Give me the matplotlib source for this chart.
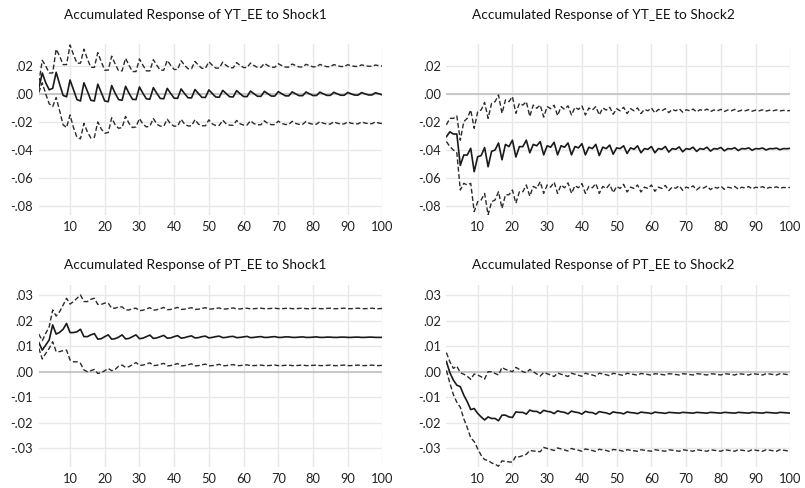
import numpy as np
import matplotlib
matplotlib.use("Agg")
import matplotlib.pyplot as plt
from matplotlib.ticker import FuncFormatter

plt.rcParams['font.family'] = ['Lato', 'DejaVu Sans']

#####################################
# data (units of 1e-3), periods 1..100
#####################################

# YT_EE to Shock1
yt1_mid = [4, 15, 8, 3, 4,
           15.5, 7, -1, -2, 10, 3, -4, -5,
           8, 2, -4.5, -5, 7, 1, -5, -5.5,
           6, 0.5, -4, -4.5, 5.5, 0.5, -3.8, -4,
           5, 0.5, -3.5, -3.7, 4.5, 0.5, -3.2, -3.4,
           4, 0.4, -3, -3.1, 3.6, 0.3, -2.7, -2.8,
           3.2, 0.3, -2.4, -2.5, 2.9, 0.3, -2.2, -2.3,
           2.6, 0.3, -2, -2.1, 2.4, 0.2, -1.8, -1.9,
           2.1, 0.2, -1.6, -1.7, 1.9, 0.2, -1.5, -1.5,
           1.7, 0.2, -1.3, -1.4, 1.5, 0.1, -1.2, -1.2,
           1.4, 0.1, -1.1, -1.1, 1.3, 0.1, -1, -1,
           1.2, 0.1, -0.9, -0.9, 1.1, 0.1, -0.8, -0.8,
           1.0, 0.1, -0.7, -0.7,
           0.9, 0.1, -0.6]
yt1_hi = [8, 24, 20, 15, 15,
          32, 27, 21, 21, 35, 28, 22, 22,
          32, 25, 19, 19, 29.5, 23, 17, 17,
          27, 21.5, 16.5, 16.5, 25.5, 20.5, 16, 16,
          25, 20.5, 16.5, 16.5, 24.5, 20.5, 17, 17,
          24, 20.5, 17.5, 17.5, 23.8, 20.5, 18, 18,
          23.3, 20.5, 18.3, 18.3, 23, 20.5, 18.5, 18.5,
          22.7, 20.4, 18.7, 18.7, 22.4, 20.4, 18.9, 18.9,
          22.1, 20.3, 19, 19, 21.8, 20.3, 19.1, 19.1,
          21.6, 20.3, 19.2, 19.2, 21.4, 20.3, 19.3, 19.3,
          21.2, 20.2, 19.4, 19.4, 21.1, 20.2, 19.5, 19.5,
          21, 20.2, 19.6, 19.6, 20.9, 20.2, 19.7, 19.7,
          20.8, 20.2, 19.8, 19.8,
          20.7, 20.2, 19.9]
yt1_lo = [1, 8, 0, -7, -9,
          -2.5, -12, -22, -24, -15, -24, -31, -32,
          -21, -27, -31.5, -31, -20, -25, -28, -27.5,
          -17, -22, -24.5, -24, -16, -21, -24, -23.5,
          -17.5, -21.5, -23.5, -23, -17.5, -21.5, -23, -23,
          -18, -21.5, -23, -23, -18, -21.5, -22.8, -22.8,
          -18.3, -21.5, -22.7, -22.7, -18.5, -21.4, -22.5, -22.5,
          -18.7, -21.4, -22.3, -22.3, -18.9, -21.3, -22.2, -22.2,
          -19.1, -21.2, -22, -22, -19.2, -21.1, -21.9, -21.9,
          -19.4, -21, -21.8, -21.8, -19.5, -21, -21.7, -21.7,
          -19.6, -21, -21.6, -21.6, -19.7, -20.9, -21.5, -21.5,
          -19.8, -20.9, -21.4, -21.4, -19.9, -20.9, -21.3, -21.3,
          -20, -20.8, -21.2, -21.2,
          -20, -20.8, -21.1]

# YT_EE to Shock2
yt2_mid = [-30.5, -27, -28.6, -28.6,
           -51, -43.6, -43.6, -38.8, -55.5, -44.8, -44, -38.3,
           -52, -41, -40, -35, -47, -36, -37.6, -33,
           -45, -37.6, -37.6, -33, -42, -36, -37, -34,
           -43.5, -37, -38, -34.5, -43.5, -37, -38, -35,
           -43.5, -37.5, -38.5, -35.5, -43.5, -38, -39, -36,
           -44, -38, -39, -36.5, -43, -38.5, -39, -37,
           -42.5, -38.5, -39.5, -37, -42, -39, -39.5, -37.5,
           -42, -39, -39.5, -37.5, -41.5, -39, -39.5, -37.8,
           -41.3, -39, -39.5, -38, -41, -39, -39.5, -38,
           -40.8, -39, -39.3, -38.2, -40.6, -39, -39.3, -38.4,
           -40.4, -39, -39.2, -38.5, -40.2, -39, -39.2, -38.6,
           -40, -39, -39.1, -38.7, -39.8, -39, -39.1, -38.8]
yt2_hi = [-22, -17.4, -17.4, -15.7,
          -33, -19.8, -17.4, -11.4, -24.5, -12.6, -11.4, -6,
          -17.4, -6.7, -5.5, -0.7, -13.8, -4.3, -5.5, -1.9,
          -13.8, -6.7, -7.9, -5.5, -16, -7.9, -10.2, -7.9,
          -16.5, -9, -10.5, -8, -15.5, -9, -11, -8.5,
          -15, -9.5, -11, -8.5, -15, -10, -11.5, -9,
          -15, -10, -11.5, -9.5, -14.5, -10.5, -12, -9.5,
          -14, -10.5, -12, -10, -14, -11, -12, -10,
          -13.5, -11, -12, -10.5, -13.3, -11, -12, -10.5,
          -13, -11.2, -12, -10.8, -12.8, -11.2, -12, -10.8,
          -12.6, -11.4, -12, -11, -12.5, -11.4, -12, -11,
          -12.4, -11.5, -12, -11.2, -12.3, -11.5, -12, -11.3,
          -12.2, -11.6, -12, -11.4, -12.1, -11.7, -12, -11.8]
yt2_lo = [-34, -37.6, -40, -42,
          -68.6, -63.8, -65, -63.8, -84, -77, -75.7, -71,
          -86.4, -77, -75.7, -69.8, -81.7, -72, -72, -68.6,
          -78, -69.8, -69.8, -65, -73, -66, -67.4, -62.6,
          -71, -65, -66.5, -63, -71, -65, -67, -63.5,
          -71, -65.5, -67, -64, -71, -66, -67, -64,
          -71, -66, -67.5, -64.5, -70.5, -66, -67.5, -64.5,
          -70, -66.5, -67.5, -65, -70, -66.5, -67.5, -65,
          -69.5, -66.5, -67.5, -65.3, -69, -66.5, -67.3, -65.5,
          -68.8, -66.5, -67.3, -65.6, -68.5, -66.5, -67.2, -65.8,
          -68.3, -66.6, -67.2, -65.9, -68.1, -66.6, -67.1, -66,
          -68, -66.6, -67.1, -66.1, -67.8, -66.6, -67, -66.2,
          -67.6, -66.7, -67, -66.3, -67.4, -66.7, -67, -66.7]

# PT_EE to Shock1
pt1_mid = [11.5, 8.5, 10.5, 12.5,
           18.4, 14.8, 15.5, 16.7, 19, 15.4, 15.4, 15.7,
           16.7, 13.8, 13.8, 14.5, 15, 12.8, 13, 13.8,
           14.5, 12.8, 13, 13.6, 14.5, 12.9, 13.1, 13.8,
           14.5, 13, 13.2, 13.8, 14.4, 13.1, 13.3, 13.8,
           14.3, 13.2, 13.3, 13.8, 14.2, 13.2, 13.4, 13.8,
           14.1, 13.3, 13.4, 13.8, 14, 13.3, 13.5, 13.8,
           14, 13.4, 13.5, 13.8, 13.9, 13.4, 13.5, 13.7,
           13.9, 13.4, 13.5, 13.7, 13.8, 13.5, 13.5, 13.7,
           13.8, 13.5, 13.5, 13.7, 13.7, 13.5, 13.5, 13.6,
           13.7, 13.5, 13.5, 13.6, 13.7, 13.5, 13.5, 13.6,
           13.6, 13.5, 13.5, 13.6, 13.6, 13.5, 13.5, 13.6,
           13.6, 13.5, 13.5, 13.6, 13.6, 13.5, 13.5, 13.5]
pt1_hi = [14.8, 12.2, 15.1, 17.7,
          24.3, 21.9, 23.6, 26.2, 28.9, 26.6, 27.6, 28.9,
          30.2, 27.6, 27.6, 28.5, 28.9, 26.5, 26.5, 27,
          27, 25, 25, 25.5, 25.5, 24.3, 24.3, 24.8,
          25, 24, 24.2, 24.7, 25.2, 24.2, 24.4, 24.8,
          25.3, 24.4, 24.5, 24.9, 25.3, 24.5, 24.6, 24.9,
          25.2, 24.5, 24.6, 24.9, 25.2, 24.6, 24.7, 24.9,
          25.1, 24.6, 24.7, 24.9, 25.1, 24.7, 24.7, 24.9,
          25, 24.7, 24.8, 24.9, 25, 24.8, 24.8, 24.9,
          25, 24.8, 24.8, 24.9, 25, 24.8, 24.8, 24.9,
          25, 24.8, 24.8, 24.9, 25, 24.8, 24.8, 24.9,
          25, 24.8, 24.8, 24.9, 25, 24.8, 24.8, 24.9,
          25, 24.8, 24.8, 24.9, 25, 24.8, 24.8, 24.9]
pt1_lo = [9.2, 5, 7.2, 9.2,
          11.8, 7.9, 7.9, 8.3, 8.5, 4.6, 3.9, 3.9,
          3.3, 0.7, 0, 0.4, 0.9, -0.7, -0.4, 0.4,
          1.3, 0.4, 0.9, 2.2, 2.6, 1.7, 2, 2.8,
          3.6, 2.5, 2.6, 3, 3.5, 2.4, 2.5, 2.9,
          3.3, 2.3, 2.4, 2.8, 3.2, 2.3, 2.4, 2.7,
          3.1, 2.3, 2.4, 2.7, 3, 2.3, 2.4, 2.6,
          2.9, 2.3, 2.4, 2.6, 2.8, 2.4, 2.4, 2.6,
          2.7, 2.4, 2.4, 2.5, 2.6, 2.4, 2.4, 2.5,
          2.6, 2.4, 2.4, 2.5, 2.6, 2.4, 2.4, 2.5,
          2.6, 2.4, 2.4, 2.5, 2.6, 2.4, 2.4, 2.5,
          2.6, 2.4, 2.4, 2.5, 2.6, 2.4, 2.4, 2.5,
          2.6, 2.4, 2.4, 2.5, 2.6, 2.4, 2.4, 2.5]

# PT_EE to Shock2
pt2_mid = [4, -0.4, -3.3, -5.3,
           -5.9, -9.2, -11.8, -14.9, -14.5, -16.4, -17.8, -19,
           -17.8, -18.4, -18.4, -19.3, -17.1, -17.1, -17.8, -18,
           -15.8, -16, -16, -16.7, -15.1, -15.6, -15.6, -16.4,
           -15.2, -15.6, -15.8, -16.5, -15.4, -15.8, -16, -16.6,
           -15.5, -15.9, -16.1, -16.7, -15.6, -16, -16.1, -16.7,
           -15.7, -16, -16.2, -16.7, -15.8, -16.1, -16.2, -16.6,
           -15.8, -16.1, -16.2, -16.5, -15.9, -16.1, -16.2, -16.5,
           -15.9, -16.1, -16.2, -16.4, -16, -16.1, -16.2, -16.3,
           -16, -16.1, -16.2, -16.3, -16, -16.1, -16.2, -16.3,
           -16, -16.1, -16.2, -16.3, -16, -16.1, -16.2, -16.3,
           -16, -16.1, -16.2, -16.3, -16, -16.1, -16.2, -16.3,
           -16, -16.1, -16.2, -16.3, -16, -16.1, -16.2, -16.3]
pt2_hi = [7.5, 3.9, 1.3, 2.2,
          -0.4, -1, -1.8, -3, -0.9, -1.3, -2, -2.9,
          0, 0, -0.7, -1.3, 1.7, 0.9, 0.5, 0,
          1.7, 0.9, 0, -0.4, 0.9, 0, -0.9, -1.7,
          -0.3, -0.8, -1.3, -1.9, -0.5, -1, -1.4, -1.9,
          -0.6, -1, -1.4, -1.8, -0.6, -1, -1.3, -1.7,
          -0.6, -0.9, -1.2, -1.6, -0.6, -0.9, -1.2, -1.5,
          -0.6, -0.9, -1.1, -1.4, -0.7, -0.9, -1.1, -1.4,
          -0.8, -0.9, -1.1, -1.3, -0.8, -0.9, -1.1, -1.3,
          -0.8, -0.9, -1.1, -1.3, -0.8, -0.9, -1.1, -1.3,
          -0.8, -0.9, -1.1, -1.3, -0.8, -0.9, -1.1, -1.3,
          -0.8, -0.9, -1.1, -1.3, -0.8, -0.9, -1.1, -1.3,
          -0.8, -0.9, -1.1, -1.3, -0.8, -0.9, -1.1, -1.3]
pt2_lo = [0.5, -4.5, -9, -12,
          -14, -18.5, -22, -26, -27.5, -30.3, -32.9, -34.6,
          -34.9, -35.9, -36.4, -37.2, -35.1, -35.3, -35.5, -35.6,
          -33.2, -33.5, -33, -32.5, -31, -31.2, -31.3, -31.5,
          -29.8, -30.2, -30.6, -31, -30, -30.4, -30.8, -31.2,
          -30.2, -30.6, -30.9, -31.3, -30.4, -30.7, -31, -31.4,
          -30.5, -30.8, -31, -31.4, -30.6, -30.8, -31, -31.3,
          -30.7, -30.9, -31.1, -31.3, -30.7, -30.9, -31.1, -31.3,
          -30.7, -30.9, -31.1, -31.3, -30.7, -30.9, -31.1, -31.3,
          -30.7, -30.9, -31.1, -31.3, -30.7, -30.9, -31.1, -31.3,
          -30.7, -30.9, -31.1, -31.3, -30.7, -30.9, -31.1, -31.3,
          -30.7, -30.9, -31.1, -31.3, -30.7, -30.9, -31.1, -31.3,
          -30.7, -30.9, -31.1, -31.3, -30.7, -30.9, -31.1, -31.3]

titles = ["Accumulated Response of YT_EE to Shock1",
          "Accumulated Response of YT_EE to Shock2",
          "Accumulated Response of PT_EE to Shock1",
          "Accumulated Response of PT_EE to Shock2"]
panels = [(yt1_mid, yt1_hi, yt1_lo), (yt2_mid, yt2_hi, yt2_lo),
          (pt1_mid, pt1_hi, pt1_lo), (pt2_mid, pt2_hi, pt2_lo)]
x_ticks = [10, 20, 30, 40, 50, 60, 70, 80, 90, 100]
y_ticks_top = [-0.08, -0.06, -0.04, -0.02, 0.0, 0.02]
y_ticks_bot = [-0.03, -0.02, -0.01, 0.0, 0.01, 0.02, 0.03]

#####################################
# figure
#####################################
W, H = 805, 488
fig = plt.figure(figsize=(W / 100, H / 100), dpi=100)

# axes boxes in pixels: left, top, right, bottom
boxes = [(38.8, 44, 382.4, 215.1), (446.4, 44, 790.4, 215.1),
         (38.8, 285.3, 382.4, 467), (446.4, 285.3, 790.4, 467)]
ylims = [(-0.0865, 0.0357), (-0.0865, 0.0357), (-0.0375, 0.034), (-0.0375, 0.034)]
title_y = [15, 15, 265, 265]


def tick_fmt(v, pos):
    s = "%.2f" % v
    if s == "-0.00":
        s = "0.00"
    return s.replace("0.", ".", 1)


for i, (mid, hi, lo) in enumerate(panels):
    l, t, r, b = boxes[i]
    ax = fig.add_axes([l / W, 1 - b / H, (r - l) / W, (b - t) / H])
    x = np.arange(1, len(mid) + 1)

    ax.plot(x, np.array(hi) / 1000, color='#2b2b2b', lw=1.0, dashes=(3.5, 1.8))
    ax.plot(x, np.array(lo) / 1000, color='#2b2b2b', lw=1.0, dashes=(3.5, 1.8))
    ax.plot(x, np.array(mid) / 1000, color='#1a1a1a', lw=1.2)

    ax.set_xlim(1, 100)
    ax.set_ylim(*ylims[i])
    ax.set_xticks(x_ticks)
    ax.set_yticks(y_ticks_top if i < 2 else y_ticks_bot)
    ax.yaxis.set_major_formatter(FuncFormatter(tick_fmt))
    ax.grid(True, color='#e8e8e8', lw=1.0)
    ax.axhline(0, color='#c4c4c4', lw=1.3, zorder=1)
    ax.set_axisbelow(True)
    for sp in ax.spines.values():
        sp.set_visible(False)
    ax.tick_params(length=0, labelsize=9.3, colors='#222222', pad=4)

    cx = (l - 30 + r) / 2
    fig.text(cx / W, 1 - title_y[i] / H, titles[i], ha='center', va='center',
             fontsize=9.8, color='#111111')

fig.savefig("out.png", dpi=100)
